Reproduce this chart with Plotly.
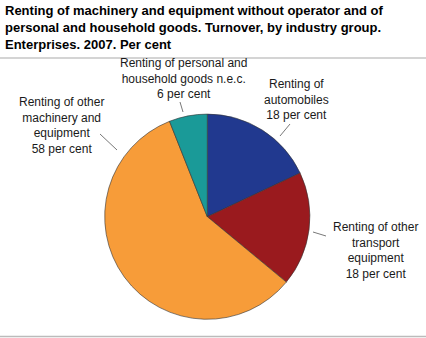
import plotly.graph_objects as go

categories = [
    "Renting of automobiles",
    "Renting of other transport equipment",
    "Renting of other machinery and equipment",
    "Renting of personal and household goods n.e.c.",
]
values = [18, 18, 58, 6]
label_texts = [
    "Renting of<br>automobiles<br>18 per cent",
    "Renting of other<br>transport<br>equipment<br>18 per cent",
    "Renting of other<br>machinery and<br>equipment<br>58 per cent",
    "Renting of personal and<br>household goods n.e.c.<br>6 per cent",
]
colors = ["#21398f", "#9a1a1e", "#f79c39", "#1a9a98"]

W, H = 426, 338
CX, CY, R = 207.3, 216.7, 102.6

# label block centers (px) and leader line ends (px)
label_pos = [(296, 99), (375, 250), (62, 125), (183, 79)]
leaders = [((280, 136), (290, 124)), ((313, 232), (326, 236)),
           ((117, 150), (100, 134)), ((183, 112), (180, 102))]

def px(x):
    return x / W

def py(y):
    return 1 - y / H

fig = go.Figure(go.Pie(
    labels=categories, values=values, sort=False, direction="clockwise",
    rotation=0, textinfo="none", hoverinfo="label+value",
    marker=dict(colors=colors, line=dict(color="#333333", width=0.6)),
    domain=dict(x=[px(CX - R), px(CX + R)], y=[py(CY + R), py(CY - R)]),
    showlegend=False,
))

annotations = [dict(
    text="<b>Renting of machinery and equipment without operator and of<br>"
         "personal and household goods. Turnover, by industry group.<br>"
         "Enterprises. 2007. Per cent</b>",
    x=px(3), y=py(1), xref="paper", yref="paper", xanchor="left", yanchor="top",
    align="left", showarrow=False,
    font=dict(family="Liberation Sans, Arial", size=13, color="#000000"),
)]
for t, (lx, ly) in zip(label_texts, label_pos):
    annotations.append(dict(
        text=t, x=px(lx), y=py(ly), xref="paper", yref="paper",
        xanchor="center", yanchor="middle", align="center", showarrow=False,
        font=dict(family="Liberation Sans, Arial", size=12, color="#1a1a1a"),
    ))

shapes = [
    dict(type="line", xref="paper", yref="paper", x0=0, x1=1, y0=py(58), y1=py(58),
         line=dict(color="#aaaaaa", width=1.2)),
    dict(type="line", xref="paper", yref="paper", x0=0, x1=1, y0=py(336.5), y1=py(336.5),
         line=dict(color="#bbbbbb", width=1.5)),
]
for (a, b) in leaders:
    shapes.append(dict(type="line", xref="paper", yref="paper",
                       x0=px(a[0]), y0=py(a[1]), x1=px(b[0]), y1=py(b[1]),
                       line=dict(color="#555555", width=0.8)))

fig.update_layout(
    width=W, height=H, margin=dict(l=0, r=0, t=0, b=0),
    paper_bgcolor="white", plot_bgcolor="white",
    annotations=annotations, shapes=shapes,
)
fig.write_html("out.html")
